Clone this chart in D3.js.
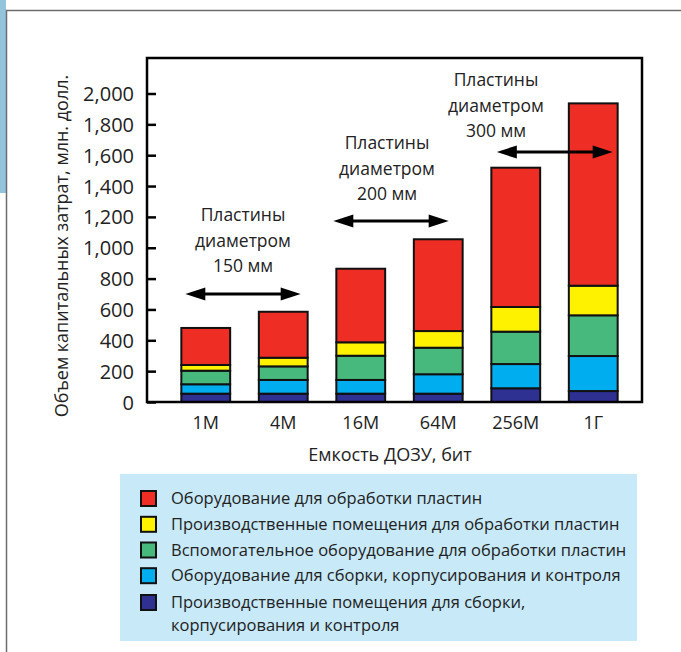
<!DOCTYPE html>
<html><head><meta charset="utf-8">
<script src="https://cdn.jsdelivr.net/npm/d3@7"></script>
<style>
html,body{margin:0;padding:0;background:#fff;}
svg{display:block;font-family:"Open Sans",sans-serif;}
</style></head>
<body>
<svg id="c" width="681" height="652"></svg>
<script>
// ---- data ----
const categories = ["1M","4M","16M","64M","256M","1Г"];
const seriesKeys = ["navy","blue","green","yellow","red"];
const navy   = [54, 54, 54, 54, 89, 71];
const blue   = [61, 89, 89, 126, 157, 227];
const green  = [88, 88, 157, 172, 210, 264];
const yellow = [37, 56, 87, 108, 160, 192];
const red    = [240, 298, 477, 595, 903, 1182];
const yTicks = [0,200,400,600,800,1000,1200,1400,1600,1800,2000];
const legendLabels = [
  ["Оборудование для обработки пластин"],
  ["Производственные помещения для обработки пластин"],
  ["Вспомогательное оборудование для обработки пластин"],
  ["Оборудование для сборки, корпусирования и контроля"],
  ["Производственные помещения для сборки,","корпусирования и контроля"]
];
const legendKeys = ["red","yellow","green","blue","navy"];
const annotations = [
  {from:"1M", to:"4M", lines:["Пластины","диаметром","150 мм"]},
  {from:"16M", to:"64M", lines:["Пластины","диаметром","200 мм"]},
  {from:"256M", to:"1Г", lines:["Пластины","диаметром","300 мм"]}
];

const colors = {red:"#ee2e24", yellow:"#fff200", green:"#48b97c", blue:"#00aeef", navy:"#2e3192"};
const table = categories.map((c,i)=>({cat:c, navy:navy[i], blue:blue[i], green:green[i], yellow:yellow[i], red:red[i]}));

const svg = d3.select("#c");

// page decoration
svg.append("rect").attr("x",0).attr("y",0).attr("width",6).attr("height",193).attr("fill","#93c4dc");
svg.append("path").attr("d","M6.5,652 V10.5 H681").attr("fill","none").attr("stroke","#6d6d6d").attr("stroke-width",1.5);

// scales
const frame = {l:147, t:58, r:642, b:402};
const x = d3.scaleBand().domain(categories).range([167,632]).paddingInner(0.37).paddingOuter(0.185);
const y = d3.scaleLinear().domain([0,2000]).range([402,93.5]);

// bars
const stack = d3.stack().keys(seriesKeys)(table);
const g = svg.append("g");
stack.forEach(layer=>{
  g.selectAll(null).data(layer).enter().append("rect")
    .attr("x",d=>x(d.data.cat))
    .attr("width",x.bandwidth())
    .attr("y",d=>y(d[1]))
    .attr("height",d=>y(d[0])-y(d[1]))
    .attr("fill",colors[layer.key])
    .attr("stroke","#111").attr("stroke-width",2);
});

// frame
svg.append("rect").attr("x",frame.l).attr("y",frame.t).attr("width",frame.r-frame.l).attr("height",frame.b-frame.t)
  .attr("fill","none").attr("stroke","#000").attr("stroke-width",2.5);

// y axis
const yAxis = d3.axisRight(y).tickValues(yTicks).tickSize(9).tickFormat(d3.format(","));
const ya = svg.append("g").attr("transform",`translate(${frame.l},0)`).call(yAxis);
ya.select(".domain").remove();
ya.selectAll(".tick line").attr("stroke","#000").attr("stroke-width",2.5);
ya.selectAll(".tick text").attr("x",-13).attr("text-anchor","end").attr("font-size",20)
  .attr("font-family","'Open Sans',sans-serif").attr("fill","#222").attr("dy","0.35em");

// x axis labels
const xAxis = d3.axisBottom(x).tickSize(0);
const xa = svg.append("g").attr("transform",`translate(0,${frame.b})`).call(xAxis);
xa.select(".domain").remove();
xa.selectAll(".tick text").attr("font-size",18).attr("font-family","'Open Sans',sans-serif").attr("fill","#222").attr("y",21).attr("dy","0.35em");

// axis titles
svg.append("text").attr("x",390).attr("y",455).attr("dy","0.35em").attr("text-anchor","middle")
  .attr("font-size",18).attr("fill","#222").text("Емкость ДОЗУ, бит");
svg.append("text").attr("transform","translate(62,246) rotate(-90)").attr("dy","0.35em").attr("text-anchor","middle")
  .attr("font-size",18).attr("fill","#222").text("Объем капитальных затрат, млн. долл.");

// annotations
const annLayout = [
  {tx:243, ty:215, ay:294, x1:4, x2:-7},
  {tx:387, ty:143, ay:221, x1:-3, x2:-14},
  {tx:496, ty:80, ay:152, x1:5.5, x2:-5}
];
annotations.forEach((a,i)=>{
  const L = annLayout[i];
  a.lines.forEach((t,j)=>{
    svg.append("text").attr("x",L.tx).attr("y",L.ty + j*25.5).attr("dy","0.35em").attr("text-anchor","middle")
      .attr("font-size",17.5).attr("fill","#222").text(t);
  });
  const xs = x(a.from)+L.x1, xe = x(a.to)+x.bandwidth()+L.x2;
  const hl = 20, hh = 6.5;
  svg.append("line").attr("x1",xs+hl-2).attr("x2",xe-hl+2).attr("y1",L.ay).attr("y2",L.ay).attr("stroke","#000").attr("stroke-width",3);
  svg.append("path").attr("d",`M${xs},${L.ay} L${xs+hl},${L.ay-hh} L${xs+hl},${L.ay+hh} Z`).attr("fill","#000");
  svg.append("path").attr("d",`M${xe},${L.ay} L${xe-hl},${L.ay-hh} L${xe-hl},${L.ay+hh} Z`).attr("fill","#000");
});

// legend
svg.append("rect").attr("x",120).attr("y",474).attr("width",517).attr("height",167).attr("fill","#c7e9f8");
const legY = [498.5, 524.3, 550, 575.7, 602.5];
legendKeys.forEach((k,i)=>{
  svg.append("rect").attr("x",141).attr("y",legY[i]-7.5).attr("width",15).attr("height",15)
    .attr("fill",colors[k]).attr("stroke","#111").attr("stroke-width",2);
  legendLabels[i].forEach((t,j)=>{
    svg.append("text").attr("x",171).attr("y",legY[i]+j*22.5).attr("dy","0.35em")
      .attr("font-size",16.5).attr("fill","#222").text(t);
  });
});
</script>
</body></html>
